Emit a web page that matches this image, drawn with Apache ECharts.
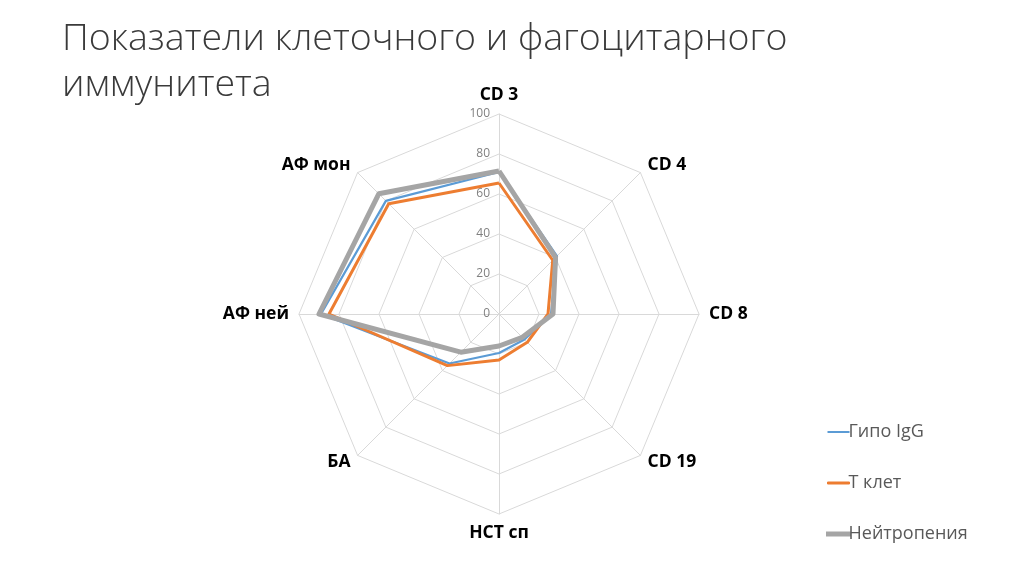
<!DOCTYPE html>
<html>
<head>
<meta charset="utf-8">
<script src="https://cdn.jsdelivr.net/npm/echarts@6/dist/echarts.min.js"></script>
<style>
  html, body { margin: 0; padding: 0; background: #fff; }
  #chart { width: 1024px; height: 574px; }
</style>
</head>
<body>
<div id="chart"></div>
<script>
// axes, clockwise from the top
var categories = ['CD 3', 'CD 4', 'CD 8', 'CD 19', 'НСТ сп', 'БА', 'АФ ней', 'АФ мон'];
var tickLabels = [0, 20, 40, 60, 80, 100];

var gipoIgG = [71, 41, 26, 18, 19.5, 35, 89, 80];
var tKlet = [65.5, 38, 24.5, 20, 23, 36.5, 85, 78];
var neitropenia = [71.5, 40, 27, 16.5, 16, 27, 90, 85];

// echarts radar runs counter-clockwise, so flip the order after the first axis
var order = [0, 7, 6, 5, 4, 3, 2, 1];
function reorder(arr) {
  return order.map(function (i) { return arr[i]; });
}

var chart = echarts.init(document.getElementById('chart'));

var indicator = reorder(categories).map(function (name, i) {
  var ind = { name: name, min: tickLabels[0], max: tickLabels[tickLabels.length - 1] };
  if (i === 0) {
    // only the top axis carries the value labels
    ind.axisLabel = { show: true, color: '#808080', fontSize: 12, fontFamily: 'Open Sans', margin: 9 };
  }
  return ind;
});

chart.setOption({
  animation: false,
  title: {
    text: 'Показатели клеточного и фагоцитарного\nиммунитета',
    left: 57,
    top: 11,
    textStyle: {
      fontFamily: 'Open Sans',
      fontWeight: 300,
      fontSize: 37.5,
      lineHeight: 46,
      color: '#3a3a3a'
    }
  },
  legend: {
    orient: 'vertical',
    left: 821,
    top: 418,
    itemGap: 33,
    itemWidth: 22,
    itemHeight: 2,
    icon: 'rect',
    data: [
      { name: 'Гипо IgG', itemStyle: { color: '#5B9BD5', borderWidth: 0 } },
      { name: 'Т клет', itemStyle: { color: '#ED7D31', borderColor: '#ED7D31', borderWidth: 1 } },
      { name: 'Нейтропения', itemStyle: { color: '#A5A5A5', borderColor: '#A5A5A5', borderWidth: 3 } }
    ],
    textStyle: { fontFamily: 'Open Sans', fontSize: 18, color: '#595959', padding: [0, 0, 0, -6] }
  },
  radar: {
    center: [499, 314],
    radius: 200,
    startAngle: 90,
    shape: 'polygon',
    splitNumber: 5,
    indicator: indicator,
    nameGap: 10,
    axisName: {
      color: '#000000',
      fontFamily: 'Open Sans',
      fontWeight: 'bold',
      fontSize: 17.5
    },
    axisLine: { lineStyle: { color: '#D9D9D9', width: 1 } },
    splitLine: { lineStyle: { color: '#D9D9D9', width: 1 } },
    splitArea: { show: false },
    axisTick: { show: false },
    axisLabel: { show: false }
  },
  series: [{
    type: 'radar',
    symbol: 'none',
    data: [
      { name: 'Гипо IgG', value: reorder(gipoIgG), lineStyle: { color: '#5B9BD5', width: 2.25 }, itemStyle: { color: '#5B9BD5' } },
      { name: 'Т клет', value: reorder(tKlet), lineStyle: { color: '#ED7D31', width: 3 }, itemStyle: { color: '#ED7D31' } },
      { name: 'Нейтропения', value: reorder(neitropenia), lineStyle: { color: '#A5A5A5', width: 5 }, itemStyle: { color: '#A5A5A5' } }
    ]
  }]
});
</script>
</body>
</html>
